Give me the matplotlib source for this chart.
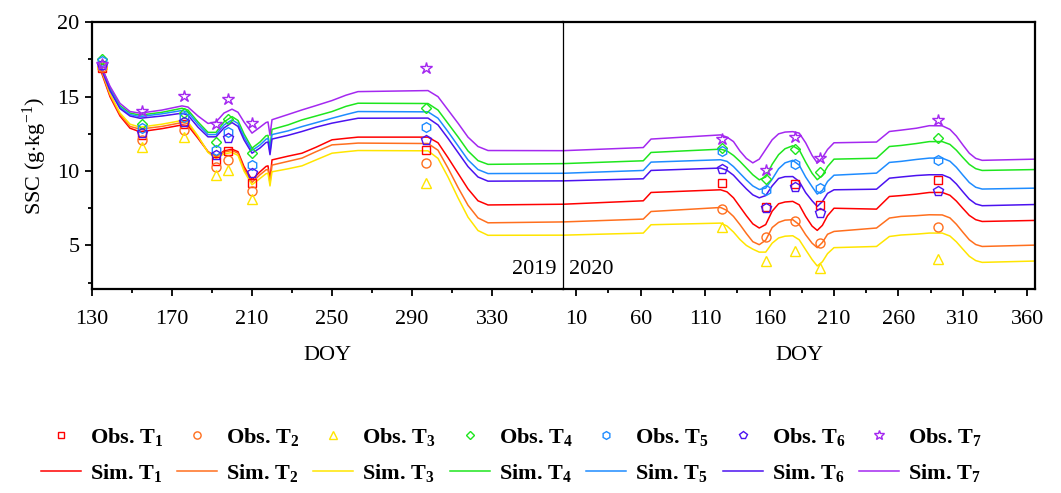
import matplotlib
matplotlib.use('Agg')
import matplotlib.pyplot as plt
from matplotlib.lines import Line2D
from matplotlib.ticker import FixedLocator

plt.rcParams['font.family'] = ['Liberation Serif', 'DejaVu Serif']
plt.rcParams['mathtext.fontset'] = 'custom'
plt.rcParams['mathtext.rm'] = 'Liberation Serif'
plt.rcParams['mathtext.it'] = 'Liberation Serif:italic'
plt.rcParams['mathtext.bf'] = 'Liberation Serif:bold'

# ---------------- data ----------------
treatments = ['T1', 'T2', 'T3', 'T4', 'T5', 'T6', 'T7']
colors = ['#FF0000', '#FF6F1E', '#FFE500', '#1EE61E', '#1E8CFF', '#4B12F0', '#A428F0']
markers = ['s', 'o', '^', 'D', 'h', 'p', '*']

# observation dates (DOY)
obs_doy_2019 = [135, 155, 176, 192, 198, 210, 297]
obs_doy_2020 = [123, 157, 180, 199, 291]

obs_2019_T1 = [16.9, 12.43, 13.17, 10.65, 11.36, 9.19, 11.43]
obs_2019_T2 = [17.0, 12.1, 12.77, 10.27, 10.71, 8.63, 10.56]
obs_2019_T3 = [17.2, 11.65, 12.3, 9.75, 10.08, 8.12, 9.23]
obs_2019_T4 = [17.55, 13.17, 13.9, 11.98, 13.5, 11.24, 14.23]
obs_2019_T5 = [17.4, 12.88, 13.66, 11.43, 12.65, 10.42, 12.97]
obs_2019_T6 = [17.1, 12.55, 13.33, 11.1, 12.2, 9.86, 12.1]
obs_2019_T7 = [17.2, 14.05, 15.03, 13.14, 14.87, 13.26, 16.95]

obs_2020_T1 = [9.23, 7.55, 9.12, 7.75, 9.39]
obs_2020_T2 = [7.48, 5.57, 6.65, 5.16, 6.24]
obs_2020_T3 = [6.25, 3.93, 4.6, 3.46, 4.06]
obs_2020_T4 = [11.58, 9.48, 11.47, 9.93, 12.19]
obs_2020_T5 = [11.38, 8.72, 10.5, 8.83, 10.73]
obs_2020_T6 = [10.13, 7.53, 8.9, 7.17, 8.65]
obs_2020_T7 = [12.14, 10.04, 12.32, 10.87, 13.42]

# simulated curves (values read at key DOYs)
sim_doy_2019 = [134, 139, 144, 149, 154, 165, 175, 178, 183, 188, 192, 196, 200, 203, 206,
                210, 214, 217, 218, 219, 220, 228, 235, 242, 250, 257, 263, 298, 303, 308,
                313, 318, 323, 328, 365.7]
sim_2019_T1 = [16.9, 15.0, 13.7, 12.88, 12.64, 12.85, 13.1, 13.05, 12.2, 11.3, 10.98, 11.35, 11.47, 11.3, 10.3,
               9.41, 9.95, 10.31, 10.35, 9.4, 10.75, 11.0, 11.2, 11.6, 12.1, 12.2, 12.28, 12.28, 11.9, 10.9,
               9.85, 8.8, 8.0, 7.72, 7.77]
sim_2019_T2 = [17.0, 15.1, 13.8, 13.0, 12.82, 13.0, 13.26, 13.2, 12.3, 11.3, 10.93, 11.28, 11.38, 11.2, 10.15,
               9.23, 9.75, 10.08, 10.1, 9.2, 10.4, 10.65, 10.87, 11.3, 11.76, 11.82, 11.88, 11.85, 11.4, 10.2,
               8.9, 7.7, 6.85, 6.52, 6.58]
sim_2019_T3 = [17.1, 15.2, 13.9, 13.15, 12.95, 13.15, 13.4, 13.3, 12.35, 11.25, 10.85, 11.15, 11.25, 11.05, 10.0,
               9.08, 9.5, 9.82, 9.85, 9.0, 9.95, 10.15, 10.35, 10.75, 11.2, 11.3, 11.38, 11.36, 10.85, 9.6,
               8.2, 6.9, 6.0, 5.68, 5.69]
sim_2019_T4 = [17.3, 15.6, 14.4, 13.9, 13.76, 13.95, 14.22, 14.1, 13.3, 12.6, 12.6, 13.3, 13.66, 13.4, 12.5,
               11.54, 11.95, 12.37, 12.4, 11.55, 12.8, 13.1, 13.44, 13.7, 14.0, 14.35, 14.56, 14.54, 14.1, 13.2,
               12.3, 11.35, 10.7, 10.45, 10.5]
sim_2019_T5 = [17.2, 15.5, 14.3, 13.8, 13.66, 13.85, 14.07, 13.95, 13.15, 12.45, 12.45, 13.1, 13.44, 13.2, 12.3,
               11.38, 11.75, 12.14, 12.2, 11.3, 12.45, 12.7, 12.99, 13.25, 13.55, 13.8, 14.0, 13.98, 13.55, 12.65,
               11.7, 10.75, 10.1, 9.83, 9.85]
sim_2019_T6 = [17.1, 15.4, 14.2, 13.7, 13.55, 13.7, 13.89, 13.75, 12.95, 12.3, 12.3, 12.9, 13.26, 13.0, 12.1,
               11.2, 11.55, 11.92, 11.95, 11.1, 12.15, 12.4, 12.66, 12.95, 13.22, 13.4, 13.55, 13.56, 13.1, 12.2,
               11.25, 10.3, 9.6, 9.32, 9.34]
sim_2019_T7 = [17.2, 15.7, 14.55, 14.0, 13.89, 14.1, 14.38, 14.3, 13.7, 13.2, 13.3, 13.9, 14.16, 13.95, 13.3,
               12.55, 12.95, 13.26, 13.3, 12.4, 13.45, 13.8, 14.11, 14.4, 14.74, 15.1, 15.34, 15.41, 15.0, 14.11,
               13.22, 12.28, 11.65, 11.38, 11.37]

sim_doy_2020 = [0, 62, 68, 122, 127, 132, 137, 142, 147, 152, 157, 162, 167, 172, 178, 183, 188, 193,
                197, 201, 205, 210, 243, 253, 262, 274, 284, 294, 300, 305, 310, 315, 320, 325, 366]
sim_2020_T1 = [7.77, 8.0, 8.56, 8.74, 8.6, 8.2, 7.6, 7.0, 6.45, 6.17, 6.4, 7.3, 7.8, 7.92, 7.96, 7.73, 6.95, 6.3,
               6.01, 6.35, 7.0, 7.5, 7.44, 8.29, 8.35, 8.45, 8.56, 8.56, 8.37, 7.98, 7.49, 7.02, 6.73, 6.61, 6.68]
sim_2020_T2 = [6.58, 6.77, 7.28, 7.55, 7.35, 6.95, 6.4, 5.8, 5.25, 5.05, 5.35, 6.2, 6.55, 6.7, 6.73, 6.4, 5.72, 5.15,
               4.85, 5.2, 5.75, 5.94, 6.17, 6.84, 6.95, 7.0, 7.06, 7.05, 6.85, 6.42, 5.89, 5.38, 5.06, 4.93, 5.02]
sim_2020_T3 = [5.69, 5.83, 6.39, 6.5, 6.3, 5.9, 5.4, 5.0, 4.75, 4.55, 4.55, 5.15, 5.5, 5.62, 5.65, 5.38, 4.71, 4.05,
               3.62, 3.9, 4.45, 4.85, 4.93, 5.6, 5.7, 5.76, 5.83, 5.83, 5.63, 5.24, 4.75, 4.27, 3.98, 3.86, 3.95]
sim_2020_T4 = [10.5, 10.69, 11.25, 11.47, 11.35, 11.05, 10.65, 10.2, 9.75, 9.41, 9.6, 10.45, 11.1, 11.5, 11.7, 11.43, 10.6, 9.85,
               9.42, 9.7, 10.3, 10.8, 10.86, 11.65, 11.72, 11.85, 11.98, 11.98, 11.79, 11.4, 10.91, 10.45, 10.16, 10.04, 10.1]
sim_2020_T5 = [9.85, 10.04, 10.6, 10.76, 10.65, 10.3, 9.85, 9.4, 9.0, 8.76, 8.85, 9.45, 10.15, 10.55, 10.72, 10.4, 9.6, 8.95,
               8.45, 8.7, 9.3, 9.72, 9.86, 10.58, 10.65, 10.78, 10.87, 10.87, 10.66, 10.25, 9.73, 9.23, 8.91, 8.79, 8.85]
sim_2020_T6 = [9.34, 9.48, 10.04, 10.2, 10.05, 9.72, 9.25, 8.8, 8.4, 8.2, 8.35, 9.0, 9.5, 9.62, 9.63, 9.3, 8.55, 8.0,
               7.62, 7.95, 8.5, 8.74, 8.78, 9.52, 9.6, 9.7, 9.75, 9.75, 9.54, 9.13, 8.61, 8.11, 7.79, 7.67, 7.75]
sim_2020_T7 = [11.37, 11.58, 12.15, 12.43, 12.28, 11.98, 11.35, 10.85, 10.55, 10.8, 11.45, 12.1, 12.5, 12.62, 12.65, 12.55, 11.9, 11.05,
               10.55, 10.9, 11.45, 11.9, 11.95, 12.66, 12.75, 12.88, 13.05, 13.04, 12.8, 12.35, 11.76, 11.2, 10.85, 10.72, 10.8]

obs19 = [obs_2019_T1, obs_2019_T2, obs_2019_T3, obs_2019_T4, obs_2019_T5, obs_2019_T6, obs_2019_T7]
obs20 = [obs_2020_T1, obs_2020_T2, obs_2020_T3, obs_2020_T4, obs_2020_T5, obs_2020_T6, obs_2020_T7]
sim19 = [sim_2019_T1, sim_2019_T2, sim_2019_T3, sim_2019_T4, sim_2019_T5, sim_2019_T6, sim_2019_T7]
sim20 = [sim_2020_T1, sim_2020_T2, sim_2020_T3, sim_2020_T4, sim_2020_T5, sim_2020_T6, sim_2020_T7]

# ---------------- figure ----------------
fig = plt.figure(figsize=(10.61, 4.93), dpi=100)
left, mid, right = 92 / 1061, 563.4 / 1061, 1035 / 1061
bottom, top = (493 - 289.3) / 493, (493 - 22.3) / 493
ax1 = fig.add_axes([left, bottom, mid - left, top - bottom])
ax2 = fig.add_axes([mid, bottom, right - mid, top - bottom])

FS = 16
msizes = {'s': 6, 'o': 6.5, '^': 7, 'D': 5.5, 'h': 7, 'p': 7, '*': 9}

for i in range(7):
    c, m = colors[i], markers[i]
    ax1.plot(sim_doy_2019, sim19[i], color=c, lw=1.1, zorder=2)
    ax2.plot(sim_doy_2020, sim20[i], color=c, lw=1.1, zorder=2)
    ax1.plot(obs_doy_2019, obs19[i], ls='none', marker=m, ms=msizes[m], mfc='none',
             mec=c, mew=1.0, zorder=3)
    ax2.plot(obs_doy_2020, obs20[i], ls='none', marker=m, ms=msizes[m], mfc='none',
             mec=c, mew=1.0, zorder=3)

for ax in (ax1, ax2):
    ax.set_ylim(2.05, 20)
    for s in ax.spines.values():
        s.set_linewidth(1.6)
    ax.tick_params(axis='x', which='major', direction='out', length=5, width=1.3,
                   labelsize=FS, top=False, pad=10)
    ax.tick_params(axis='y', which='major', direction='out', length=5, width=1.3,
                   labelsize=FS, right=False, pad=4)
    ax.tick_params(axis='both', which='minor', direction='out', length=3, width=1.3,
                   top=False, right=False)
    ax.set_xlabel('DOY', fontsize=FS, labelpad=12)

ax1.set_xlim(130, 365.7)
ax1.xaxis.set_major_locator(FixedLocator([130, 170, 210, 250, 290, 330]))
ax1.xaxis.set_minor_locator(FixedLocator([150, 190, 230, 270, 310, 350]))
ax1.yaxis.set_major_locator(FixedLocator([5, 10, 15, 20]))
ax1.yaxis.set_minor_locator(FixedLocator([2.5, 7.5, 12.5, 17.5]))
ax1.spines['right'].set_visible(False)
ax1.set_ylabel('SSC (g$\\cdot$kg$^{-1}$)', fontsize=FS, labelpad=6)

ax2.set_xlim(0, 366)
ax2.xaxis.set_major_locator(FixedLocator([10, 60, 110, 160, 210, 260, 310, 360]))
ax2.xaxis.set_minor_locator(FixedLocator([35, 85, 135, 185, 235, 285, 335]))
ax2.spines['left'].set_linewidth(0.9)
ax2.tick_params(axis='y', which='both', left=False, labelleft=False)

ax1.text(0.985, 0.04, '2019', transform=ax1.transAxes, ha='right', va='bottom', fontsize=FS)
ax2.text(0.012, 0.04, '2020', transform=ax2.transAxes, ha='left', va='bottom', fontsize=FS)

# legend
handles, labels = [], []
for i in range(7):
    n = i + 1
    handles.append(Line2D([], [], ls='none', marker=markers[i], ms=msizes[markers[i]] * 0.8,
                          mfc='none', mec=colors[i], mew=1.0))
    labels.append('Obs. T$_{\\mathbf{%d}}$' % n)
    handles.append(Line2D([], [], color=colors[i], lw=1.1))
    labels.append('Sim. T$_{\\mathbf{%d}}$' % n)

fig.legend(handles, labels, loc='center', bbox_to_anchor=(0.482, 0.077), ncol=7,
           frameon=False, prop={'family': 'Liberation Serif', 'weight': 'bold', 'size': 16},
           handlelength=1.8, handletextpad=0.4, columnspacing=0.62, labelspacing=0.62)

fig.savefig('out.png', dpi=100)
